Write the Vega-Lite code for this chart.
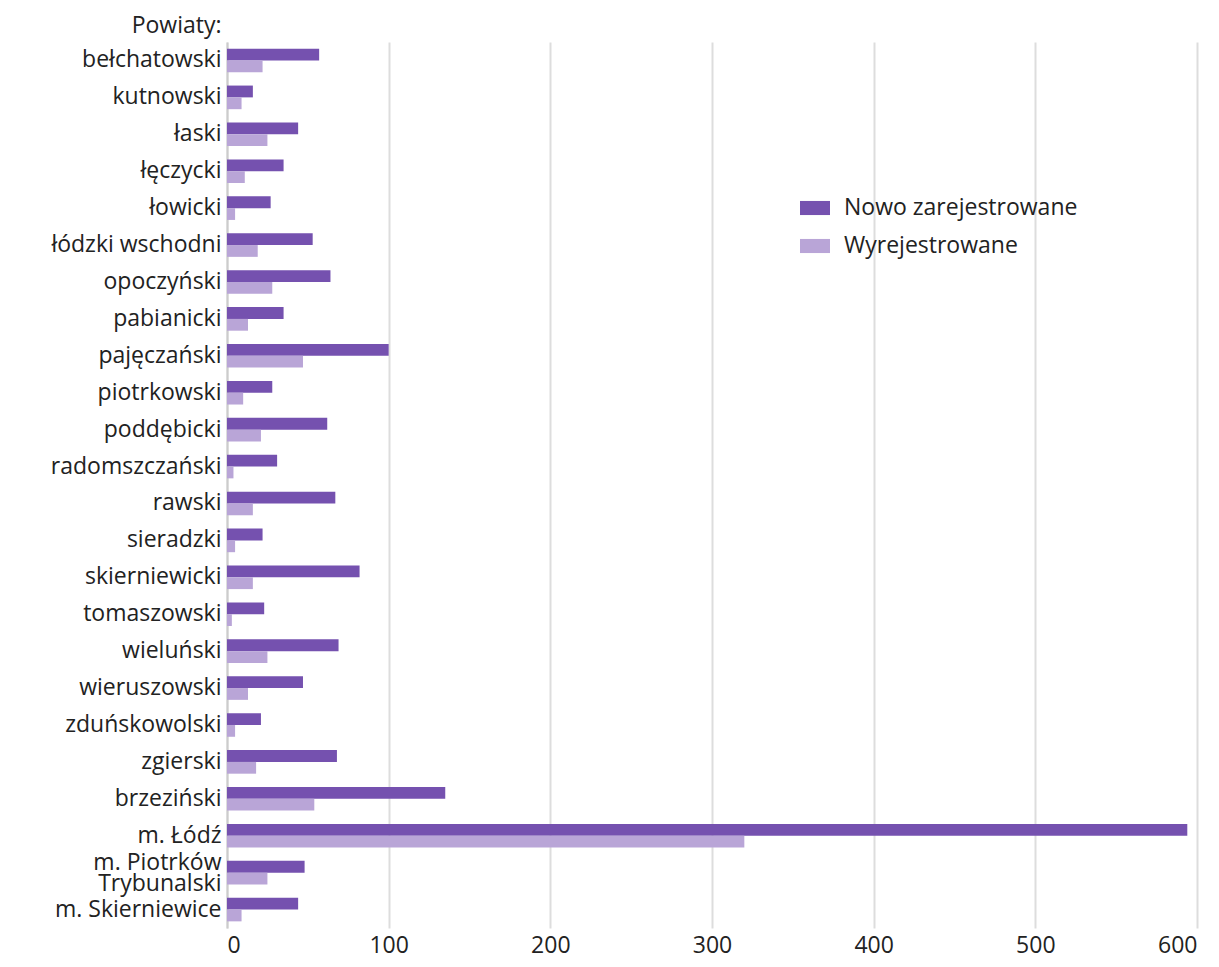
{
  "$schema": "https://vega.github.io/schema/vega-lite/v6.json",
  "width": 970,
  "height": 886,
  "autosize": "none",
  "padding": {"left": 227, "top": 42, "right": 22, "bottom": 39},
  "background": "white",
  "config": {
    "font": "Open Sans",
    "view": {"stroke": null}
  },
  "data": {
    "values": [
      {"powiat": "bełchatowski", "typ": "Nowo zarejestrowane", "value": 57},
      {"powiat": "bełchatowski", "typ": "Wyrejestrowane", "value": 22},
      {"powiat": "kutnowski", "typ": "Nowo zarejestrowane", "value": 16},
      {"powiat": "kutnowski", "typ": "Wyrejestrowane", "value": 9},
      {"powiat": "łaski", "typ": "Nowo zarejestrowane", "value": 44},
      {"powiat": "łaski", "typ": "Wyrejestrowane", "value": 25},
      {"powiat": "łęczycki", "typ": "Nowo zarejestrowane", "value": 35},
      {"powiat": "łęczycki", "typ": "Wyrejestrowane", "value": 11},
      {"powiat": "łowicki", "typ": "Nowo zarejestrowane", "value": 27},
      {"powiat": "łowicki", "typ": "Wyrejestrowane", "value": 5},
      {"powiat": "łódzki wschodni", "typ": "Nowo zarejestrowane", "value": 53},
      {"powiat": "łódzki wschodni", "typ": "Wyrejestrowane", "value": 19},
      {"powiat": "opoczyński", "typ": "Nowo zarejestrowane", "value": 64},
      {"powiat": "opoczyński", "typ": "Wyrejestrowane", "value": 28},
      {"powiat": "pabianicki", "typ": "Nowo zarejestrowane", "value": 35},
      {"powiat": "pabianicki", "typ": "Wyrejestrowane", "value": 13},
      {"powiat": "pajęczański", "typ": "Nowo zarejestrowane", "value": 100},
      {"powiat": "pajęczański", "typ": "Wyrejestrowane", "value": 47},
      {"powiat": "piotrkowski", "typ": "Nowo zarejestrowane", "value": 28},
      {"powiat": "piotrkowski", "typ": "Wyrejestrowane", "value": 10},
      {"powiat": "poddębicki", "typ": "Nowo zarejestrowane", "value": 62},
      {"powiat": "poddębicki", "typ": "Wyrejestrowane", "value": 21},
      {"powiat": "radomszczański", "typ": "Nowo zarejestrowane", "value": 31},
      {"powiat": "radomszczański", "typ": "Wyrejestrowane", "value": 4},
      {"powiat": "rawski", "typ": "Nowo zarejestrowane", "value": 67},
      {"powiat": "rawski", "typ": "Wyrejestrowane", "value": 16},
      {"powiat": "sieradzki", "typ": "Nowo zarejestrowane", "value": 22},
      {"powiat": "sieradzki", "typ": "Wyrejestrowane", "value": 5},
      {"powiat": "skierniewicki", "typ": "Nowo zarejestrowane", "value": 82},
      {"powiat": "skierniewicki", "typ": "Wyrejestrowane", "value": 16},
      {"powiat": "tomaszowski", "typ": "Nowo zarejestrowane", "value": 23},
      {"powiat": "tomaszowski", "typ": "Wyrejestrowane", "value": 3},
      {"powiat": "wieluński", "typ": "Nowo zarejestrowane", "value": 69},
      {"powiat": "wieluński", "typ": "Wyrejestrowane", "value": 25},
      {"powiat": "wieruszowski", "typ": "Nowo zarejestrowane", "value": 47},
      {"powiat": "wieruszowski", "typ": "Wyrejestrowane", "value": 13},
      {"powiat": "zduńskowolski", "typ": "Nowo zarejestrowane", "value": 21},
      {"powiat": "zduńskowolski", "typ": "Wyrejestrowane", "value": 5},
      {"powiat": "zgierski", "typ": "Nowo zarejestrowane", "value": 68},
      {"powiat": "zgierski", "typ": "Wyrejestrowane", "value": 18},
      {"powiat": "brzeziński", "typ": "Nowo zarejestrowane", "value": 135},
      {"powiat": "brzeziński", "typ": "Wyrejestrowane", "value": 54},
      {"powiat": "m. Łódź", "typ": "Nowo zarejestrowane", "value": 594},
      {"powiat": "m. Łódź", "typ": "Wyrejestrowane", "value": 320},
      {"powiat": "m. Piotrków Trybunalski", "typ": "Nowo zarejestrowane", "value": 48},
      {"powiat": "m. Piotrków Trybunalski", "typ": "Wyrejestrowane", "value": 25},
      {"powiat": "m. Skierniewice", "typ": "Nowo zarejestrowane", "value": 44},
      {"powiat": "m. Skierniewice", "typ": "Wyrejestrowane", "value": 9}
    ]
  },
  "mark": {"type": "bar"},
  "encoding": {
    "y": {
      "field": "powiat",
      "type": "nominal",
      "sort": null,
      "scale": {"paddingInner": 0.36, "paddingOuter": 0.18},
      "axis": {
        "title": "Powiaty:",
        "titleAngle": 0,
        "titleAlign": "right",
        "titleBaseline": "middle",
        "titleX": -6,
        "titleY": -17,
        "titleFontSize": 23,
        "titleFontWeight": "normal",
        "titleColor": "#222222",
        "titleFont": "Open Sans",
        "labelFontSize": 23,
        "labelColor": "#222222",
        "labelFont": "Open Sans",
        "labelPadding": 6,
        "labelLimit": 300,
        "labelBaseline": "middle",
        "labelOffset": {"condition": {"test": "datum.value == 'm. Piotrków Trybunalski'", "value": -10}, "value": 0},
        "ticks": false,
        "domain": true,
        "domainColor": "#cccccc",
        "domainWidth": 2,
        "grid": false,
        "labelExpr": "datum.value == 'm. Piotrków Trybunalski' ? ['m. Piotrków', 'Trybunalski'] : datum.value",
        "labelLineHeight": 21
      }
    },
    "yOffset": {
      "field": "typ",
      "type": "nominal",
      "sort": ["Nowo zarejestrowane", "Wyrejestrowane"]
    },
    "x": {
      "field": "value",
      "type": "quantitative",
      "scale": {"domain": [0, 600], "nice": false},
      "axis": {
        "title": null,
        "values": [0, 100, 200, 300, 400, 500, 600],
        "labelFontSize": 23,
        "labelColor": "#222222",
        "labelFont": "Open Sans",
        "labelPadding": 6,
        "ticks": false,
        "domain": false,
        "grid": true,
        "gridColor": "#dddddd",
        "gridWidth": 2
      }
    },
    "color": {
      "field": "typ",
      "type": "nominal",
      "sort": ["Nowo zarejestrowane", "Wyrejestrowane"],
      "scale": {"domain": ["Nowo zarejestrowane", "Wyrejestrowane"], "range": ["#7551af", "#b9a5d7"]},
      "legend": {
        "title": null,
        "orient": "none",
        "legendX": 573,
        "legendY": 151,
        "symbolType": "M-1,-0.47H1V0.47H-1Z",
        "symbolSize": 900,
        "symbolStrokeWidth": 0,
        "labelFontSize": 23,
        "labelColor": "#222222",
        "labelFont": "Open Sans",
        "labelLimit": 400,
        "labelOffset": 14,
        "rowPadding": 11
      }
    }
  }
}
